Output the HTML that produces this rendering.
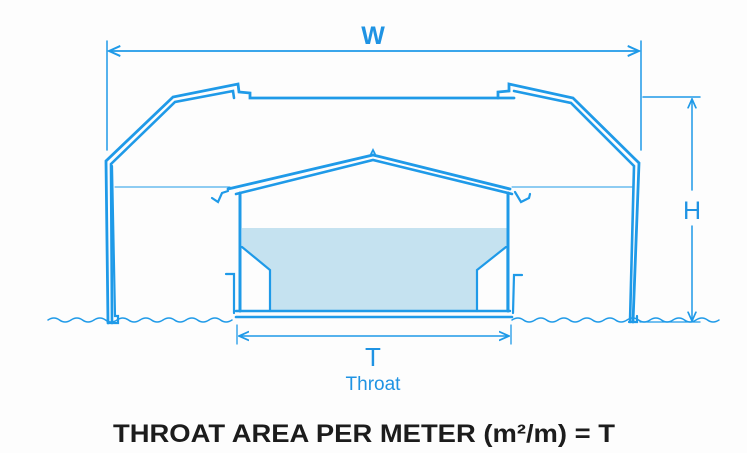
<!DOCTYPE html>
<html><head><style>html,body{margin:0;padding:0;background:#fdfdfd}svg{display:block}</style></head>
<body>
<svg width="747" height="453" viewBox="0 0 747 453" xmlns="http://www.w3.org/2000/svg">
<defs>
<marker id="a" viewBox="0 0 10 10" refX="9" refY="5" markerWidth="7" markerHeight="7" orient="auto-start-reverse"><path d="M0,1 L9,5 L0,9" fill="none" stroke="#1f9ae8" stroke-width="1.6"/></marker>
</defs>
<g fill="none" stroke="#1f9ae8" stroke-linecap="round" stroke-linejoin="miter">
<rect x="242" y="228" width="266" height="83" fill="#c5e2f0" stroke="none"/>
<path d="M242,247 L270,270 L270,311 L242,311Z" fill="#fdfdfd" stroke="none"/>
<path d="M506,247 L477,270 L477,311 L506,311Z" fill="#fdfdfd" stroke="none"/>
<line x1="107" y1="41" x2="107" y2="150" stroke-width="1.5"/>
<line x1="641" y1="41" x2="641" y2="150" stroke-width="1.5"/>
<line x1="109" y1="51" x2="639" y2="51" stroke-width="1.8" marker-start="url(#a)" marker-end="url(#a)"/>
<line x1="643" y1="97" x2="700" y2="97" stroke-width="1.5"/>
<line x1="692" y1="99" x2="692" y2="190" stroke-width="1.5" marker-start="url(#a)"/>
<line x1="692" y1="226" x2="692" y2="321" stroke-width="1.5" marker-end="url(#a)"/>
<line x1="640" y1="322" x2="700" y2="322" stroke-width="1.3"/>
<line x1="115" y1="187" x2="230" y2="187" stroke-width="1.1"/>
<line x1="512" y1="187" x2="632" y2="187" stroke-width="1.1"/>
<path d="M108,323 L106,161 L173,97 L238,84 L239,92 L250,93 L250,98 L514,98" stroke-width="2.8"/>
<path d="M112,323 L111,164 L175,102 L233,91 L234,98" stroke-width="2.6"/>
<path d="M108,323 L118,323 L118,316 L115,316 L112,166" stroke-width="2.2"/>
<path d="M498,98 L498,92 L509,91 L509,84 L573,98 L639,163 L633,322" stroke-width="2.8"/>
<path d="M514,91 L571,103 L634,166 L630,322" stroke-width="2.6"/>
<path d="M629,322 L637,322 L637,316" stroke-width="2.2"/>
<path d="M228,189 L373,155 L510,189" stroke-width="2.8"/>
<path d="M236,194 L373,160 L512,194" stroke-width="2.6"/>
<path d="M371,154 L373,150 L375,154" stroke-width="1.8"/>
<path d="M228,191 L222,193 L218,202 L212,198" stroke-width="2.2"/>
<path d="M515,192 L521,202 L529,198 L530,194" stroke-width="2.2"/>
<path d="M240,193 L240,311" stroke-width="3"/>
<path d="M508,193 L508,311" stroke-width="3"/>
<path d="M242,247 L270,270 L270,311" stroke-width="2.2"/>
<path d="M506,247 L477,270 L477,311" stroke-width="2.2"/>
<path d="M226,274 L234,274 L234,313" stroke-width="2.2"/>
<path d="M522,275 L514,275 L513,313" stroke-width="2.2"/>
<line x1="236" y1="311" x2="510" y2="311" stroke-width="2.4"/>
<line x1="236" y1="317" x2="512" y2="317" stroke-width="2.6"/>
<path d="M48,320 q6,-4 11.5,0 t11.5,0 t11.5,0 t11.5,0 t11.5,0 t11.5,0 t11.5,0 t11.5,0 t11.5,0 t11.5,0 t11.5,0 t11.5,0 t11.5,0 t11.5,0 t11.5,0 t11.5,0" stroke-width="1.5"/>
<path d="M512,320 q6,-4 11.5,0 t11.5,0 t11.5,0 t11.5,0 t11.5,0 t11.5,0 t11.5,0 t11.5,0 t11.5,0 t11.5,0 t11.5,0 t11.5,0 t11.5,0 t11.5,0 t11.5,0 t11.5,0 t11.5,0 t11.5,0" stroke-width="1.5"/>
<line x1="237" y1="325" x2="237" y2="344" stroke-width="1.3"/>
<line x1="511" y1="325" x2="511" y2="344" stroke-width="1.3"/>
<line x1="239" y1="336" x2="509" y2="336" stroke-width="1.6" marker-start="url(#a)" marker-end="url(#a)"/>
</g>
<g font-family="Liberation Sans, sans-serif" fill="#1f93e3" text-anchor="middle">
<text x="373" y="44" font-size="25" font-weight="bold">W</text>
<text x="692" y="219" font-size="25">H</text>
<text x="373" y="366" font-size="26">T</text>
<text x="373" y="390" font-size="19">Throat</text>
</g>
<text x="364" y="442" font-family="Liberation Sans, sans-serif" font-size="25" font-weight="600" fill="#1c1c1c" text-anchor="middle" textLength="502" lengthAdjust="spacingAndGlyphs">THROAT AREA PER METER (m²/m) = T</text>
</svg>
</body></html>
